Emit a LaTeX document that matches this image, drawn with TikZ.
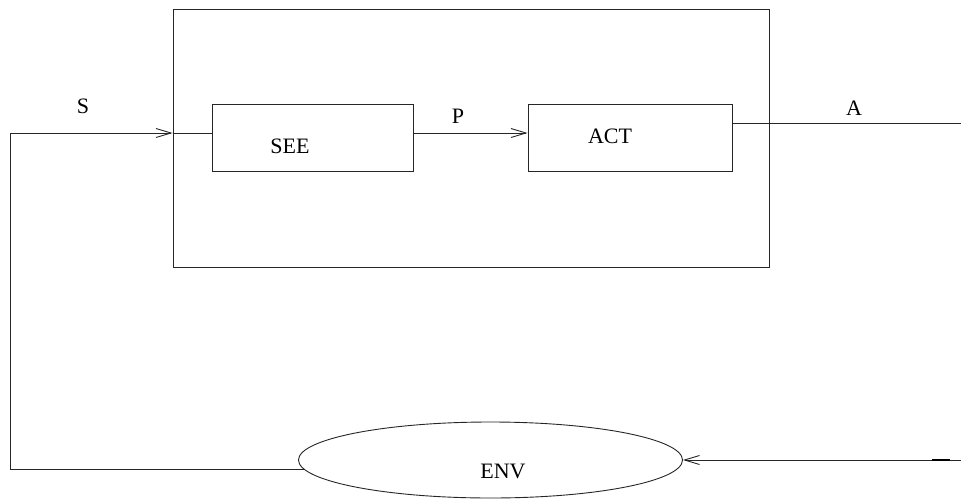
\documentclass[tikz,border=0pt]{standalone}
\usepackage{fontspec}
\setmainfont{Liberation Serif}
\usetikzlibrary{arrows.meta,shapes.geometric}

\begin{document}
\begin{tikzpicture}[x=1pt,y=-1pt,
  wire/.style={line width=0.9pt,draw=black!85},
  flow/.style={wire,-{Straight Barb[length=15pt,width=9pt,line width=0.9pt]}},
  block/.style={draw=black!85,line width=0.9pt,rectangle,inner sep=0pt},
  tag/.style={anchor=base,inner sep=0pt,font=\fontsize{22}{26}\selectfont}]

  \useasboundingbox (0,0) rectangle (961,498);

  % agent frame and its two stages
  \node[block,minimum width=596pt,minimum height=258pt] (agent) at (471,138) {};
  \node[block,minimum width=201pt,minimum height=67pt] (see) at (312.5,137.5) {};
  \node[block,minimum width=204pt,minimum height=67pt] (act) at (630,137.5) {};

  % environment
  \node[draw=black!85,line width=0.9pt,ellipse,inner sep=0pt,
        minimum width=384pt,minimum height=76pt] (env) at (490.5,460) {};

  % wiring reference points
  \coordinate (fbL) at (10,133);
  \coordinate (aOut) at (961,123);
  \coordinate (eIn) at (961,460);

  % sensing path from the environment back into the agent
  \draw[flow] (env.183) -| (fbL) -- (fbL -| agent.west);
  \draw[wire] (fbL -| agent.west) -- (fbL -| see.west);

  % percept from SEE to ACT
  \draw[flow] (fbL -| see.east) -- (fbL -| act.west);

  % action output leaving the agent
  \draw[wire] (aOut -| act.east) -- (aOut);

  % action returning into the environment
  \draw[flow] (eIn) -- (env.east);
  \draw[line width=1.4pt,black] (932,460) -- (950,460);

  % labels
  \node[tag] (tSee) at (290,153) {SEE};
  \node[tag] (tAct) at (610,143) {ACT};
  \node[tag] (tEnv) at (503,478) {ENV};
  \node[tag] (tS) at (83,113) {S};
  \node[tag] (tP) at (458,123) {P};
  \node[tag] (tA) at (854,115) {A};
\end{tikzpicture}
\end{document}
